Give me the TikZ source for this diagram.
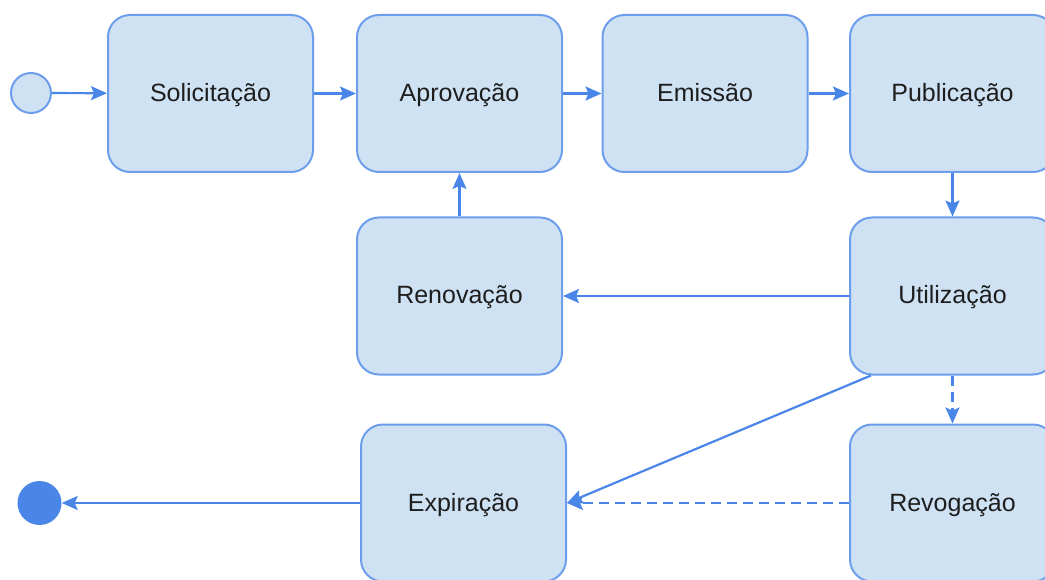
\documentclass[tikz,border=0pt]{standalone}
\usepackage{fontspec}
\setmainfont{Liberation Sans}
\usetikzlibrary{arrows.meta}
\definecolor{flowline}{HTML}{4A86E8}
\definecolor{stateborder}{HTML}{6D9EEB}
\definecolor{statefill}{HTML}{CFE2F3}
\definecolor{statetext}{HTML}{1E1E1E}
\begin{document}
\begin{tikzpicture}[x=1pt,y=-1pt,
  state/.style={draw=stateborder, fill=statefill, line width=2pt, rounded corners=22pt,
    minimum width=205pt, minimum height=157pt, inner sep=0pt, text=statetext,
    text height=20pt, text depth=4pt,
    font=\fontsize{25}{30}\selectfont},
  startpt/.style={circle, draw=stateborder, fill=statefill, line width=2pt,
    minimum size=40pt, inner sep=0pt},
  endpt/.style={circle, fill=flowline, minimum size=44pt, inner sep=0pt},
  flow/.style={draw=flowline, line width=2.2pt,
    -{Stealth[length=16pt,width=14pt,inset=3pt]}},
  flowdash/.style={flow, dash pattern=on 10pt off 6pt}]
\useasboundingbox (0,0) rectangle (1045,580);

% states
\node[startpt] (start) at (31,93) {};
\node[state] (sol) at (210.5,93.5) {Solicitação};
\node[state] (apr) at (459.5,93.5) {Aprovação};
\node[state] (emi) at (705,93.5) {Emissão};
\node[state] (pub) at (952.5,93.5) {Publicação};
\node[state] (ren) at (459.5,296) {Renovação};
\node[state] (uti) at (952.5,296) {Utilização};
\node[state] (exp) at (463.5,503) {Expiração};
\node[state] (rev) at (952.5,503) {Revogação};
\node[endpt] (fin) at (39.5,503) {};

% transitions
\draw[flow] (start) -- (sol);
\draw[flow] (sol) -- (apr);
\draw[flow] (apr) -- (emi);
\draw[flow] (emi) -- (pub);
\draw[flow] (pub) -- (uti);
\draw[flow] (uti) -- (ren);
\draw[flow] (ren) -- (apr);
\draw[flowdash] (uti) -- (rev);
\draw[flow] ([xshift=22pt]uti.south west) -- (exp.east);
\draw[flowdash] (rev.west) -- (exp.east);
\draw[flow] (exp) -- (fin);
\end{tikzpicture}
\end{document}
